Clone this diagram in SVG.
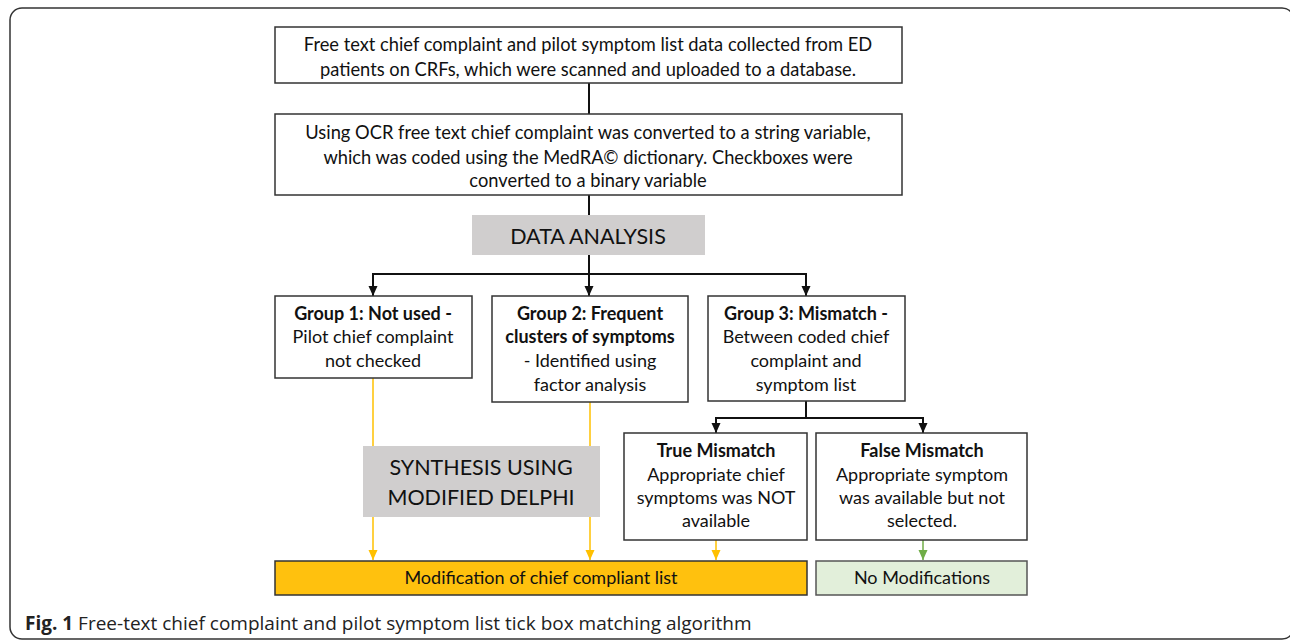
<svg xmlns="http://www.w3.org/2000/svg" width="1290" height="641" viewBox="0 0 1290 641">
<defs>
<style>
.box{fill:#fff;stroke:#333;stroke-width:1.5}
.gray{fill:#D0CECE;stroke:none}
.yel{fill:#FFC10E;stroke:#333;stroke-width:1.5}
.grn{fill:#E2EFDA;stroke:#555;stroke-width:1.5}
text{font-family:Lato,"Open Sans",sans-serif;fill:#111;text-anchor:middle}
.t{font-size:18px}
.w{font-size:18.3px}
.b{font-weight:bold}
.big{font-size:21.5px}
.cap{font-family:"Open Sans",sans-serif;font-size:19px;text-anchor:start;fill:#222}
.k{fill:none;stroke:#111;stroke-width:2}
.y{fill:none;stroke:#FFC000;stroke-width:1.5}
.g{fill:none;stroke:#70AD47;stroke-width:1.5}
</style>
<marker id="ak" markerUnits="userSpaceOnUse" markerWidth="10" markerHeight="10" viewBox="0 0 10 10" refX="10" refY="5" orient="auto"><path d="M0,0.5 L10,5 L0,9.5 Z" fill="#111"/></marker>
<marker id="ay" markerUnits="userSpaceOnUse" markerWidth="10" markerHeight="10" viewBox="0 0 10 10" refX="10" refY="5" orient="auto"><path d="M0,0.5 L10,5 L0,9.5 Z" fill="#FFC000"/></marker>
<marker id="ag" markerUnits="userSpaceOnUse" markerWidth="10" markerHeight="10" viewBox="0 0 10 10" refX="10" refY="5" orient="auto"><path d="M0,0.5 L10,5 L0,9.5 Z" fill="#70AD47"/></marker>
</defs>
<rect x="0" y="0" width="1290" height="641" fill="#fff"/>
<rect id="frame" x="10" y="8" width="1284" height="631" rx="12" fill="none" stroke="#333" stroke-width="1.5"/>
<g id="connectors">
<line class="k" x1="589" y1="83" x2="589" y2="114"/>
<line class="k" x1="589" y1="195" x2="589" y2="215"/>
<polyline class="k" points="589,255 589,274"/>
<polyline class="k" points="373,296 373,274 806,274 806,296"/>
<line class="k" x1="373" y1="274" x2="373" y2="296" marker-end="url(#ak)"/>
<line class="k" x1="589" y1="274" x2="589" y2="296" marker-end="url(#ak)"/>
<line class="k" x1="806" y1="274" x2="806" y2="296" marker-end="url(#ak)"/>
<polyline class="k" points="806,401 806,418 716,418 716,433"/>
<polyline class="k" points="806,418 923,418 923,433"/>
<line class="k" x1="716" y1="418" x2="716" y2="433" marker-end="url(#ak)"/>
<line class="k" x1="923" y1="418" x2="923" y2="433" marker-end="url(#ak)"/>
<line class="y" x1="373" y1="378" x2="373" y2="560" marker-end="url(#ay)"/>
<line class="y" x1="590" y1="402" x2="590" y2="560" marker-end="url(#ay)"/>
<line class="y" x1="716" y1="540" x2="716" y2="560" marker-end="url(#ay)"/>
<line class="g" x1="923" y1="540" x2="923" y2="560" marker-end="url(#ag)"/>
</g>
<g id="n1">
<rect class="box" x="275" y="27" width="627" height="56"/>
<text class="w" x="588" y="51">Free text chief complaint and pilot symptom list data collected from ED</text>
<text class="w" x="588" y="76">patients on CRFs, which were scanned and uploaded to a database.</text>
</g>
<g id="n2">
<rect class="box" x="275" y="114" width="627" height="81"/>
<text class="w" x="588" y="139">Using OCR free text chief complaint was converted to a string variable,</text>
<text class="w" x="588" y="164">which was coded using the MedRA© dictionary. Checkboxes were</text>
<text class="w" x="588" y="187">converted to a binary variable</text>
</g>
<g id="n3">
<rect class="gray" x="472" y="215" width="233" height="40"/>
<text class="big" x="588" y="244">DATA ANALYSIS</text>
</g>
<g id="n4">
<rect class="box" x="275" y="296" width="197" height="82"/>
<text class="t b" x="373" y="320">Group 1: Not used -</text>
<text class="t" x="373" y="343">Pilot chief complaint</text>
<text class="t" x="373" y="367">not checked</text>
</g>
<g id="n5">
<rect class="box" x="492" y="296" width="196" height="106"/>
<text class="t b" x="590" y="320">Group 2: Frequent</text>
<text class="t b" x="590" y="343">clusters of symptoms</text>
<text class="t" x="590" y="367">- Identified using</text>
<text class="t" x="590" y="391">factor analysis</text>
</g>
<g id="n6">
<rect class="box" x="708" y="296" width="197" height="105"/>
<text class="t b" x="806" y="320">Group 3: Mismatch -</text>
<text class="t" x="806" y="343">Between coded chief</text>
<text class="t" x="806" y="367">complaint and</text>
<text class="t" x="806" y="391">symptom list</text>
</g>
<g id="n7">
<rect class="box" x="624" y="433" width="183" height="107"/>
<text class="t b" x="716" y="457">True Mismatch</text>
<text class="t" x="716" y="481">Appropriate chief</text>
<text class="t" x="716" y="504">symptoms was NOT</text>
<text class="t" x="716" y="527">available</text>
</g>
<g id="n8">
<rect class="box" x="816" y="433" width="211" height="107"/>
<text class="t b" x="922" y="457">False Mismatch</text>
<text class="t" x="922" y="481">Appropriate symptom</text>
<text class="t" x="922" y="504">was available but not</text>
<text class="t" x="922" y="527">selected.</text>
</g>
<g id="n9">
<rect class="gray" x="363" y="446" width="237" height="71"/>
<text class="big" x="481" y="475">SYNTHESIS USING</text>
<text class="big" x="481" y="505">MODIFIED DELPHI</text>
</g>
<g id="n10">
<rect class="yel" x="275" y="561" width="532" height="34"/>
<text class="t" x="541" y="584">Modification of chief compliant list</text>
</g>
<g id="n11">
<rect class="grn" x="816" y="561" width="211" height="34"/>
<text class="t" x="922" y="584">No Modifications</text>
</g>
<text class="cap" x="25" y="630"><tspan font-weight="bold">Fig. 1</tspan> Free-text chief complaint and pilot symptom list tick box matching algorithm</text>
</svg>
